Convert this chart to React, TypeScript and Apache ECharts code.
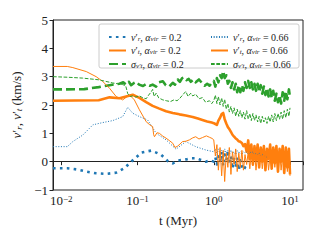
import React, { useEffect, useRef } from "react";
import * as echarts from "echarts";

const BLUE = "#1f77b4";
const ORANGE = "#ff7f0e";
const GREEN = "#2ca02c";
const FONT = "Liberation Serif";

const yTicks = [-1, 0, 1, 2, 3, 4, 5];
const xTickExps = [-2, -1, 0, 1];

const tLate = [1.0, 1.05, 1.1, 1.15, 1.21, 1.27, 1.33, 1.39, 1.46, 1.53, 1.6, 1.68, 1.76, 1.85, 1.94, 2.03, 2.13, 2.23, 2.34, 2.45, 2.57, 2.7, 2.83, 2.97, 3.11, 3.26, 3.42, 3.58, 3.76, 3.94, 4.13, 4.33, 4.54, 4.76, 4.99, 5.23, 5.49, 5.75, 6.03, 6.32, 6.63, 6.95, 7.29, 7.64, 8.01, 8.4, 8.81, 9.23, 9.68, 10.0];

// v'_r, alpha = 0.2
const vr02Early = [[0.0078, -0.23], [0.012, -0.23], [0.0165, -0.28], [0.0213, -0.35], [0.0287, -0.41], [0.0388, -0.43], [0.0525, -0.39], [0.0675, -0.23], [0.0825, 0.0], [0.096, 0.15], [0.112, 0.32], [0.151, 0.39], [0.176, 0.32], [0.205, 0.24], [0.25, 0.02], [0.29, -0.06], [0.337, 0.04], [0.39, 0.06], [0.435, 0.08], [0.505, 0.12], [0.59, 0.12], [0.68, 0.06], [0.79, 0.0], [0.9, 0.05]];
const vr02Late = [0.0, 0.15, -0.1, 0.3, 0.0, 0.35, -0.15, 0.25, 0.05, 0.3, -0.1, 0.2, -0.25, 0.15, -0.2, 0.1, -0.3, 0.05, -0.15, -0.3, -0.2, -0.3];

// v'_t, alpha = 0.2
const vt02Early = [[0.0078, 2.15], [0.015, 2.16], [0.031, 2.17], [0.043, 2.27], [0.058, 2.24], [0.071, 2.3], [0.0866, 2.36], [0.106, 2.25], [0.13, 2.1], [0.158, 1.97], [0.19, 1.88], [0.237, 1.78], [0.29, 1.72], [0.355, 1.67], [0.43, 1.63], [0.53, 1.58], [0.62, 1.52], [0.71, 1.47], [0.82, 1.42], [0.94, 1.38]];
const vt02Late = [1.36, 1.33, 1.3, 1.45, 1.55, 1.68, 1.72, 1.5, 1.35, 1.22, 1.15, 1.05, 0.95, 0.88, 0.82, 0.78, 0.72, 0.7, 0.66, 0.55, 0.62, 0.35, 0.75, 0.1, 0.6, -0.1, 0.55, 0.05, 0.6, -0.2, 0.5, 0.0, 0.55, -0.3, 0.45, 0.1, 0.6, -0.25, 0.5, -0.05, 0.55, -0.35, 0.45, 0.0, 0.55, -0.4, 0.5, -0.2, 0.45, -0.45];

// sigma, alpha = 0.2
const sig02Early = [[0.0078, 2.55], [0.012, 2.55], [0.02, 2.56], [0.031, 2.63], [0.043, 2.7], [0.058, 2.75], [0.065, 2.8], [0.071, 2.72], [0.077, 2.82], [0.0825, 2.7], [0.09, 2.78], [0.096, 2.82], [0.105, 2.72], [0.118, 2.67], [0.13, 2.74], [0.145, 2.68], [0.158, 2.72], [0.175, 2.65], [0.19, 2.8], [0.215, 2.84], [0.235, 2.7], [0.26, 2.65], [0.29, 2.78], [0.31, 2.72], [0.337, 2.9], [0.36, 2.82], [0.385, 2.95], [0.41, 2.98], [0.44, 2.88], [0.47, 2.92], [0.5, 2.82], [0.54, 2.9], [0.58, 2.8], [0.64, 2.9], [0.7, 2.78], [0.76, 2.68], [0.82, 2.75], [0.88, 2.68], [0.94, 2.78]];
const sig02Late = [2.85, 2.65, 2.95, 2.8, 3.05, 2.95, 3.2, 2.95, 3.05, 2.75, 2.85, 2.6, 2.8, 2.55, 2.75, 2.45, 2.7, 2.45, 2.7, 2.5, 2.8, 2.6, 2.85, 2.6, 2.8, 2.55, 2.75, 2.5, 2.75, 2.45, 2.7, 2.4, 2.65, 2.35, 2.6, 2.3, 2.55, 2.25, 2.5, 2.15, 2.4, 2.1, 2.35, 2.05, 2.45, 2.15, 2.5, 2.2, 2.55, 2.25];

// v'_r, alpha = 0.66
const vr066Early = [[0.0078, 0.53], [0.012, 0.53], [0.0142, 0.71], [0.0192, 0.94], [0.026, 1.3], [0.035, 1.38], [0.0474, 1.45], [0.064, 1.59], [0.0745, 1.92], [0.0866, 1.71], [0.106, 1.59], [0.136, 1.47], [0.176, 1.0], [0.237, 0.77], [0.32, 0.44], [0.43, 0.71], [0.58, 0.53], [0.79, 0.41]];
const vr066Late = [0.35, 0.45, 0.25, 0.45, 0.3, 0.4, 0.2, 0.45, 0.3, 0.4, 0.25, 0.4, 0.3, 0.35, 0.25, 0.4, 0.3, 0.35, 0.25, 0.35, 0.3, 0.35, 0.25, 0.35, 0.3, 0.35, 0.25, 0.3, 0.25, 0.3, 0.2, 0.25, 0.2, 0.2, 0.15, 0.15];

// v'_t, alpha = 0.66
const vt066Early = [[0.0078, 3.36], [0.012, 3.36], [0.0142, 3.32], [0.0213, 3.18], [0.0287, 3.0], [0.035, 2.83], [0.043, 2.59], [0.0525, 2.3], [0.064, 2.18], [0.0785, 2.36], [0.091, 2.18], [0.106, 1.83], [0.13, 1.41], [0.145, 1.3], [0.158, 1.24], [0.163, 0.95], [0.167, 0.88], [0.18, 1.02], [0.194, 1.0], [0.215, 0.9], [0.237, 0.83], [0.26, 0.75], [0.29, 0.65], [0.31, 0.5], [0.337, 0.55], [0.36, 0.62], [0.39, 0.71], [0.43, 0.72], [0.48, 0.77], [0.53, 0.84], [0.58, 0.88], [0.64, 0.8], [0.71, 0.85], [0.8, 0.91], [0.88, 0.86], [0.95, 0.82]];
const vt066Late = [0.77, 0.2, 0.6, -0.3, 0.5, -0.5, 0.4, -0.7, 0.3, -0.2, 0.5, -0.45, 0.35, -0.1, 0.45, -0.35, 0.3, -0.2, 0.4, -0.3, 0.25, -0.1, 0.35, -0.25, 0.3, -0.15, 0.4, -0.3, 0.25, 0.0, 0.35, -0.25, 0.3, 0.05, 0.4, -0.3, 0.2, 0.05, 0.35, -0.2, 0.3, 0.0, 0.4, -0.3, 0.25, 0.05, 0.35, -0.35, 0.3, -0.5];

// sigma, alpha = 0.66
const sig066Early = [[0.0078, 3.0], [0.012, 2.98], [0.019, 2.95], [0.031, 2.89], [0.047, 2.78], [0.064, 2.72], [0.07, 2.68], [0.0745, 2.4], [0.08, 2.3], [0.0866, 2.32], [0.095, 2.28], [0.106, 2.32], [0.118, 2.25], [0.13, 2.22], [0.14, 2.35], [0.15, 2.45], [0.158, 2.55], [0.165, 2.3], [0.176, 2.42], [0.19, 2.25], [0.215, 2.18], [0.24, 2.15], [0.27, 2.12], [0.3, 2.18], [0.33, 2.15], [0.355, 2.22], [0.39, 2.35], [0.43, 2.48], [0.46, 2.3], [0.5, 2.42], [0.53, 2.32], [0.58, 2.38], [0.64, 2.22], [0.71, 2.26], [0.78, 2.1], [0.88, 2.15], [0.94, 2.05]];
const sig066Late = [2.15, 2.35, 2.05, 2.3, 2.0, 2.25, 1.95, 2.2, 1.85, 2.05, 1.75, 1.95, 1.7, 1.9, 1.6, 1.85, 1.6, 1.8, 1.55, 1.75, 1.5, 1.8, 1.5, 1.7, 1.45, 1.7, 1.45, 1.65, 1.4, 1.6, 1.35, 1.6, 1.4, 1.55, 1.35, 1.6, 1.4, 1.65, 1.4, 1.7, 1.45, 1.7, 1.5, 1.75, 1.5, 1.8, 1.55, 1.85, 1.6, 1.9];

const legendLabels: Record<string, string> = {
  vr02: "{i|v}′{s|r}, {i|α}{s|vir} = 0.2",
  vt02: "{i|v}′{s|t}, {i|α}{s|vir} = 0.2",
  sig02: "{i|σ}{s|v′t}, {i|α}{s|vir} = 0.2",
  vr066: "{i|v}′{s|r}, {i|α}{s|vir} = 0.66",
  vt066: "{i|v}′{s|t}, {i|α}{s|vir} = 0.66",
  sig066: "{i|σ}{s|v′t}, {i|α}{s|vir} = 0.66",
};

function join(early: number[][], late: number[]) {
  return early.concat(late.map((v, i) => [tLate[i], v]));
}

const legendRich = {
  i: { fontFamily: FONT, fontStyle: "italic", fontSize: 10, color: "#222" },
  s: { fontFamily: FONT, fontStyle: "italic", fontSize: 7, color: "#222", verticalAlign: "bottom" },
};

export default function App() {
  const ref = useRef<HTMLDivElement>(null);
  useEffect(() => {
    if (!ref.current) return;
    const chart = echarts.init(ref.current, undefined, { renderer: "svg" });
    const mk = (name: string, data: number[][], color: string, width: number, type: any, z: number) => ({
      name,
      type: "line",
      data,
      symbol: "none",
      z,
      lineStyle: { color, width, type, cap: "butt", join: "round" },
      itemStyle: { color },
    });
    const legendBase = {
      orient: "vertical",
      top: 27,
      itemWidth: 17,
      itemHeight: 10,
      itemGap: 3.5,
      itemStyle: { opacity: 0 },
      textStyle: { fontFamily: FONT, fontSize: 10, color: "#222", rich: legendRich },
      formatter: (n: string) => legendLabels[n],
      selectedMode: false,
      z: 6,
    };
    chart.setOption({
      animation: false,
      backgroundColor: "#fff",
      grid: { left: 53, right: 17, top: 20, bottom: 50, show: true, borderColor: "#222", borderWidth: 1, backgroundColor: "transparent" },
      xAxis: {
        type: "log",
        min: 0.0078,
        max: 14.8,
        logBase: 10,
        name: "t (Myr)",
        nameLocation: "middle",
        nameGap: 24,
        nameTextStyle: { fontFamily: FONT, fontSize: 13, color: "#222" },
        axisLine: { show: true, lineStyle: { color: "#222", width: 1 } },
        axisTick: { show: true, inside: false, length: 3.5, lineStyle: { color: "#222" } },
        splitLine: { show: false },
        axisLabel: {
          fontFamily: FONT,
          fontSize: 13,
          color: "#222",
          margin: 4,
          formatter: (v: number) => {
            const e = Math.log10(v);
            const r = Math.round(e);
            if (Math.abs(e - r) > 1e-6 || !xTickExps.includes(r)) return "";
            return "10{sup|" + (r < 0 ? "−" + -r : String(r)) + "}";
          },
          rich: { sup: { fontFamily: FONT, fontSize: 9, color: "#222", verticalAlign: "top" } },
        },
      },
      yAxis: {
        type: "value",
        min: yTicks[0],
        max: yTicks[yTicks.length - 1],
        interval: 1,
        name: "{i|v}′{s|r}, {i|v}′{s|t} (km/s)",
        nameLocation: "middle",
        nameGap: 16,
        nameTextStyle: {
          fontFamily: FONT,
          fontSize: 13,
          color: "#222",
          rich: {
            i: { fontFamily: FONT, fontStyle: "italic", fontSize: 13, color: "#222" },
            s: { fontFamily: FONT, fontStyle: "italic", fontSize: 9, color: "#222", verticalAlign: "bottom" },
          },
        },
        axisLine: { show: true, lineStyle: { color: "#222", width: 1 } },
        axisTick: { show: true, inside: false, length: 3.5, lineStyle: { color: "#222" } },
        splitLine: { show: false },
        axisLabel: {
          fontFamily: FONT,
          fontSize: 13,
          color: "#222",
          margin: 5,
          formatter: (v: number) => String(v).replace("-", "−"),
        },
      },
      legend: [
        { ...legendBase, left: 103, data: ["vr02", "vt02", "sig02"] },
        { ...legendBase, left: 205, data: ["vr066", "vt066", "sig066"] },
      ],
      graphic: {
        elements: [
          {
            type: "rect",
            z: 5,
            shape: { x: 99, y: 24, width: 200, height: 44, r: 2 },
            style: { fill: "rgba(255,255,255,0.85)", stroke: "#cccccc", lineWidth: 1 },
          },
        ],
      },
      series: [
        mk("vr02", join(vr02Early, vr02Late), BLUE, 2.6, [2.6, 4.3], 2),
        mk("vt02", join(vt02Early, vt02Late), ORANGE, 2.6, "solid", 2),
        mk("sig02", join(sig02Early, sig02Late), GREEN, 2.6, [9, 4], 2),
        mk("vr066", join(vr066Early, vr066Late), BLUE, 1, [1, 1.65], 3),
        mk("vt066", join(vt066Early, vt066Late), ORANGE, 1, "solid", 3),
        mk("sig066", join(sig066Early, sig066Late), GREEN, 1, [3.7, 1.6], 3),
      ],
    });
    return () => chart.dispose();
  }, []);
  return <div ref={ref} style={{ position: "fixed", left: 0, top: 0, width: 320, height: 240 }} />;
}
